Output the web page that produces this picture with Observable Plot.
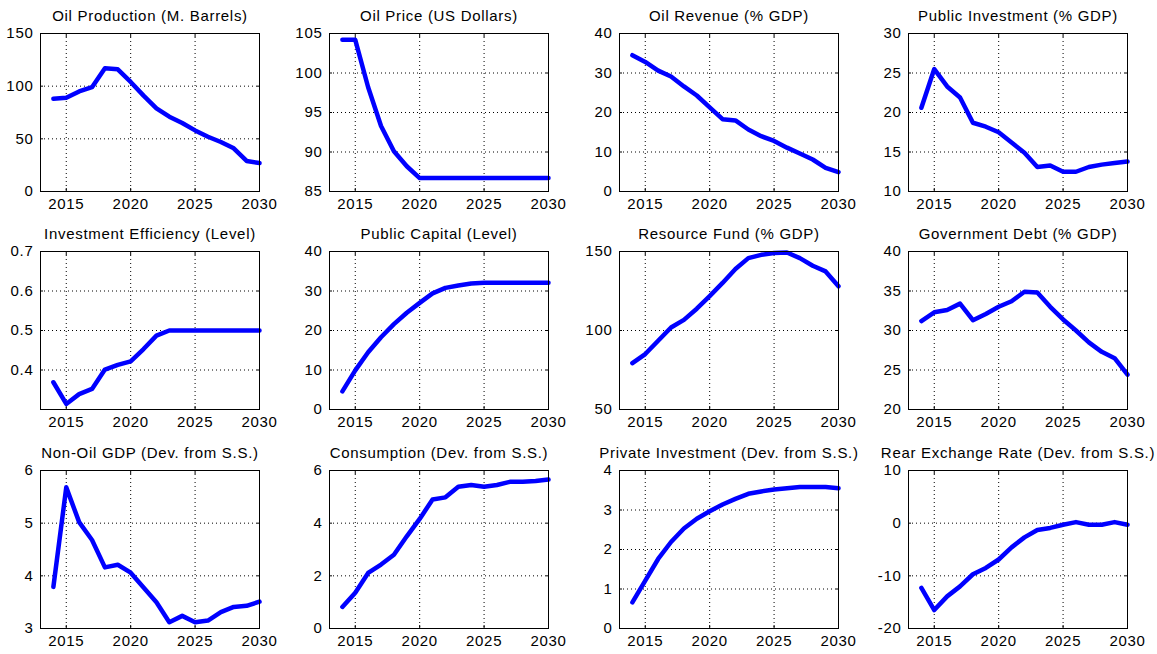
<!DOCTYPE html>
<html><head><meta charset="utf-8">
<script src="https://cdn.jsdelivr.net/npm/d3@7"></script>
<script src="https://cdn.jsdelivr.net/npm/@observablehq/plot@0.6"></script>
<style>
body{margin:0;background:#fff;}
#wrap{position:relative;width:1157px;height:654px;overflow:hidden;background:#fff;}
#wrap svg{position:absolute;overflow:visible;}
</style></head><body><div id="wrap"></div>
<script>
const years = [2014,2015,2016,2017,2018,2019,2020,2021,2022,2023,2024,2025,2026,2027,2028,2029,2030];
const xTicks = [2015,2020,2025,2030];

const titles = [
  "Oil Production (M. Barrels)", "Oil Price (US Dollars)", "Oil Revenue (% GDP)", "Public Investment (% GDP)",
  "Investment Efficiency (Level)", "Public Capital (Level)", "Resource Fund (% GDP)", "Government Debt (% GDP)",
  "Non-Oil GDP (Dev. from S.S.)", "Consumption (Dev. from S.S.)", "Private Investment (Dev. from S.S.)", "Rear Exchange Rate (Dev. from S.S.)"
];

const oilProduction = [88,89,95,99,117,116,104,91,79,71,65,58,52,47,41,29,27];
const oilPrice = [104.2,104.2,98.2,93.3,90.1,88.2,86.7,86.7,86.7,86.7,86.7,86.7,86.7,86.7,86.7,86.7,86.7];
const oilRevenue = [34.5,32.8,30.6,29.1,26.6,24.3,21.3,18.3,18.0,15.7,14.0,12.8,11.1,9.6,8.1,6.0,4.9];
const publicInvestment = [20.6,25.5,23.3,21.9,18.7,18.2,17.5,16.2,14.9,13.1,13.3,12.5,12.5,13.1,13.4,13.6,13.8];
const investmentEfficiency = [0.369,0.314,0.339,0.352,0.401,0.413,0.422,0.453,0.487,0.5,0.5,0.5,0.5,0.5,0.5,0.5,0.5];
const publicCapital = [4.6,9.9,14.5,18.3,21.6,24.5,27.0,29.4,30.8,31.4,31.9,32.1,32.1,32.1,32.1,32.1,32.1];
const resourceFund = [79.3,85.1,93.5,101.9,106.7,113.8,121.8,130.1,138.9,145.8,147.9,149,149.4,145.8,141,137.4,128];
const governmentDebt = [31.2,32.3,32.6,33.4,31.3,32.1,33.0,33.7,34.9,34.8,33.0,31.4,30.0,28.5,27.3,26.5,24.4];
const nonOilGDP = [3.79,5.68,5.02,4.68,4.16,4.21,4.06,3.78,3.5,3.12,3.24,3.12,3.15,3.31,3.41,3.43,3.51];
const consumption = [0.82,1.36,2.11,2.43,2.8,3.5,4.16,4.9,4.98,5.38,5.45,5.38,5.45,5.57,5.57,5.6,5.66];
const privateInvestment = [0.66,1.21,1.76,2.19,2.53,2.78,2.97,3.14,3.28,3.41,3.47,3.52,3.55,3.58,3.58,3.58,3.55];
const realExchangeRate = [-12.3,-16.5,-13.9,-12.0,-9.7,-8.5,-6.9,-4.6,-2.7,-1.3,-0.9,-0.3,0.2,-0.3,-0.3,0.2,-0.3];

const series = [oilProduction, oilPrice, oilRevenue, publicInvestment,
  investmentEfficiency, publicCapital, resourceFund, governmentDebt,
  nonOilGDP, consumption, privateInvestment, realExchangeRate];

const yDomains = [[0,150],[85,105],[0,40],[10,30],[0.3,0.7],[0,40],[50,150],[20,40],[3,6],[0,6],[0,4],[-20,10]];
const yTicks = [
  [0,50,100,150],[85,90,95,100,105],[0,10,20,30,40],[10,15,20,25,30],
  [0.4,0.5,0.6,0.7],[0,10,20,30,40],[50,100,150],[20,25,30,35,40],
  [3,4,5,6],[0,2,4,6],[0,1,2,3,4],[-20,-10,0,10]
];

const colLeft = [40,329,619,908];
const rowTop = [33,251,470];
const mL = 40, mR = 24, mT = 33, mB = 26, pw = 219, ph = 158;
const font = "'Liberation Sans', Arial, sans-serif";

const wrap = document.getElementById("wrap");
series.forEach((vals, i) => {
  const data = years.map((yr, j) => ({year: yr, value: vals[j]}));
  const row = Math.floor(i / 4), col = i % 4;
  const svg = Plot.plot({
    width: mL + pw + mR, height: mT + ph + mB,
    marginLeft: mL, marginRight: mR, marginTop: mT, marginBottom: mB,
    style: {fontFamily: font, fontSize: "15px", color: "black", background: "transparent", letterSpacing: "0.7px", overflow: "visible"},
    x: {domain: [2013, 2030]},
    y: {domain: yDomains[i]},
    marks: [
      Plot.gridX(xTicks, {stroke: "black", strokeOpacity: 1, strokeDasharray: "1,3"}),
      Plot.gridY(yTicks[i], {stroke: "black", strokeOpacity: 1, strokeDasharray: "1,3"}),
      Plot.axisX(xTicks, {tickSize: 0, tickPadding: 7, tickFormat: d => String(d), label: null, fontSize: 15}),
      Plot.axisY(yTicks[i], {tickSize: 0, tickPadding: 7, tickFormat: d => String(d), label: null, fontSize: 15}),
      Plot.axisX(xTicks, {anchor: "bottom", tickSize: -3, tickFormat: () => "", label: null}),
      Plot.axisX(xTicks, {anchor: "top", tickSize: -3, tickFormat: () => "", label: null}),
      Plot.axisY(yTicks[i], {anchor: "left", tickSize: -3, tickFormat: () => "", label: null}),
      Plot.axisY(yTicks[i], {anchor: "right", tickSize: -3, tickFormat: () => "", label: null}),
      Plot.line(data, {x: "year", y: "value", stroke: "#0000ff", strokeWidth: 4.5}),
      Plot.frame({stroke: "black", strokeWidth: 1}),
      Plot.text([titles[i]], {text: d => d, frameAnchor: "top", lineAnchor: "bottom", dy: -13, fontSize: 15, fill: "black"})
    ]
  });
  svg.style.left = (colLeft[col] - mL) + "px";
  svg.style.top = (rowTop[row] - mT) + "px";
  wrap.appendChild(svg);
});
</script></body></html>
